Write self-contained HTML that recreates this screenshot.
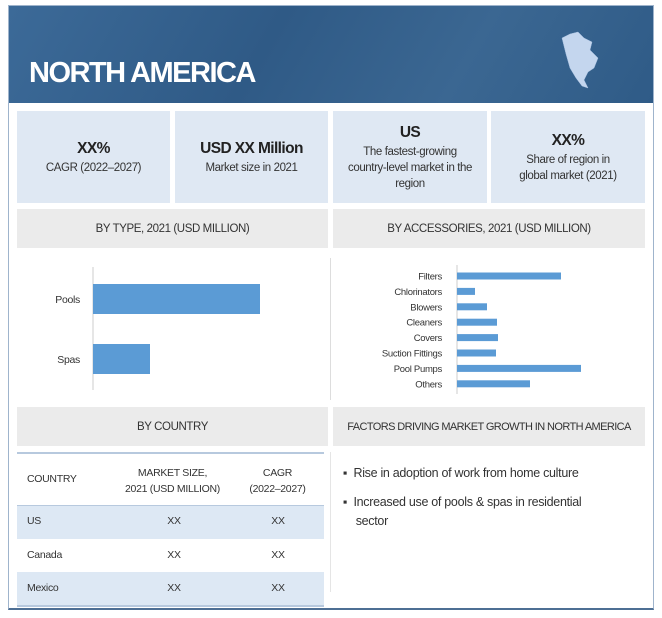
<!DOCTYPE html>
<html><head><meta charset="utf-8"><style>
body{margin:0;width:662px;height:618px;background:#fff;position:relative;overflow:hidden;font-family:"Liberation Sans",sans-serif;color:#333}
.abs{position:absolute}
.card{position:absolute;top:111px;height:92px;background:#dfe8f3;text-align:center;display:flex;flex-direction:column;justify-content:center;font-size:11.5px;line-height:16px;color:#333;letter-spacing:-0.4px}
.card b{font-size:15.5px;line-height:22px;color:#222;letter-spacing:-0.6px}
.sh{position:absolute;background:#ebebeb;font-size:11.5px;display:flex;align-items:center;justify-content:center;color:#333;letter-spacing:-0.4px;white-space:nowrap}
.cell{position:absolute;font-size:10.5px;text-align:center;letter-spacing:-0.3px}
</style></head><body>
<div class="abs" style="left:8px;top:5px;width:644px;height:602px;border:1px solid #9fb4cc;border-bottom:2px solid #4e6f94"></div>
<div class="abs" style="left:9px;top:6px;width:644px;height:97px;background:linear-gradient(120deg,#3c6a98 0%,#2f5a86 40%,#3b6792 70%,#2f5b87 100%)">
<div class="abs" style="left:20px;top:51px;color:#fff;font-weight:bold;font-size:29px;letter-spacing:-1.5px">NORTH AMERICA</div>
<svg class="abs" style="left:545px;top:22px" width="50" height="65"><path d="M8 10 L16 6 L24 4 L30 10 L38 14 L36 22 L44 30 L40 40 L34 44 L30 52 L34 60 L28 58 L22 50 L16 40 L12 26 Z" fill="#c4d6ee" stroke="#a9c1e0" stroke-width="0.5"/></svg>
</div>
<div class="card" style="left:17px;width:153px"><b>XX%</b>CAGR (2022–2027)</div>
<div class="card" style="left:175px;width:153px"><b>USD XX Million</b>Market size in 2021</div>
<div class="card" style="left:333px;width:154px"><b>US</b>The fastest-growing<br>country-level market in the<br>region</div>
<div class="card" style="left:491px;width:154px"><b>XX%</b>Share of region in<br>global market (2021)</div>
<div class="sh" style="left:17px;top:209px;width:311px;height:39px">BY TYPE, 2021 (USD MILLION)</div>
<div class="sh" style="left:333px;top:209px;width:312px;height:39px">BY ACCESSORIES, 2021 (USD MILLION)</div>
<div class="abs" style="left:330px;top:258px;width:1px;height:142px;background:#ddd"></div>
<svg class="abs" id="type" style="left:0;top:250px" width="330" height="150"></svg>
<svg class="abs" id="acc" style="left:331px;top:250px" width="331" height="150"></svg>
<div class="sh" style="left:17px;top:407px;width:311px;height:39px">BY COUNTRY</div>
<div class="sh" style="left:333px;top:407px;width:312px;height:39px;font-size:11px;letter-spacing:-0.6px">FACTORS DRIVING MARKET GROWTH IN NORTH AMERICA</div>
<div class="abs" style="left:17px;top:452px;width:307px;height:2px;background:#b7c9de"></div>
<div class="cell" style="left:27px;top:473px;text-align:left">COUNTRY</div>
<div class="cell" style="left:110px;top:465px;width:125px;line-height:16px">MARKET SIZE,<br>2021 (USD MILLION)</div>
<div class="cell" style="left:240px;top:465px;width:75px;line-height:16px">CAGR<br>(2022–2027)</div>
<div class="abs" style="left:17px;top:505px;width:307px;height:33px;background:#dde8f4;border-top:1px solid #b7c9de"></div>
<div class="abs" style="left:17px;top:572px;width:307px;height:33px;background:#dde8f4;border-bottom:2px solid #b7c9de"></div>
<div class="cell" style="left:27px;top:515px;text-align:left">US</div>
<div class="cell" style="left:160px;top:515px;width:28px">XX</div>
<div class="cell" style="left:264px;top:515px;width:28px">XX</div>
<div class="cell" style="left:27px;top:549px;text-align:left">Canada</div>
<div class="cell" style="left:160px;top:549px;width:28px">XX</div>
<div class="cell" style="left:264px;top:549px;width:28px">XX</div>
<div class="cell" style="left:27px;top:582px;text-align:left">Mexico</div>
<div class="cell" style="left:160px;top:582px;width:28px">XX</div>
<div class="cell" style="left:264px;top:582px;width:28px">XX</div>
<div class="abs" style="left:330px;top:452px;width:1px;height:140px;background:#e5e5e5"></div>
<div class="abs" style="left:343px;top:464px;font-size:12.5px;line-height:19px;letter-spacing:-0.3px">▪&nbsp; Rise in adoption of work from home culture</div>
<div class="abs" style="left:343px;top:493px;font-size:12.5px;line-height:19px;width:300px;letter-spacing:-0.3px">▪&nbsp; Increased use of pools &amp; spas in residential<br>&nbsp;&nbsp;&nbsp;&nbsp;sector</div>
<script>
const typeCats=["Pools","Spas"];
const typeVals=[167,57];
const accCats=["Filters","Chlorinators","Blowers","Cleaners","Covers","Suction Fittings","Pool Pumps","Others"];
const accVals=[104,18,30,40,41,39,124,73];
const NS="http://www.w3.org/2000/svg";
function mk(svg,tag,attrs,txt){const e=document.createElementNS(NS,tag);for(const k in attrs)e.setAttribute(k,attrs[k]);if(txt!==undefined)e.textContent=txt;svg.appendChild(e);return e;}
(function(){
const s=document.getElementById('type');const x0=93,xs=v=>x0+v;const band=60,top=19;
const ax=mk(s,'line',{x1:x0,x2:x0,y1:17,y2:140,stroke:'#ccc'});

typeCats.forEach((c,i)=>{const cy=top+band*i+band/2;
const b=mk(s,'rect',{x:x0,y:cy-15,width:xs(typeVals[i])-x0,height:30,fill:'#5b9bd5'});

const t=mk(s,'text',{x:x0-13,y:cy+4,'text-anchor':'end','font-size':10.5,'letter-spacing':'-0.3',fill:'#333'},c);
});
})();
(function(){
const s=document.getElementById('acc');const x0=126,xs=v=>x0+v;const step=15.4,top=18.3;
const ax=mk(s,'line',{x1:x0,x2:x0,y1:15,y2:144,stroke:'#ccc'});

accCats.forEach((c,i)=>{const cy=top+step*(i+0.5);
const b=mk(s,'rect',{x:x0,y:cy-3.5,width:xs(accVals[i])-x0,height:7,fill:'#5b9bd5'});

const t=mk(s,'text',{x:x0-15,y:cy+3.5,'text-anchor':'end','font-size':9.5,'letter-spacing':'-0.3',fill:'#333'},c);
});
})();
</script>
</body></html>
